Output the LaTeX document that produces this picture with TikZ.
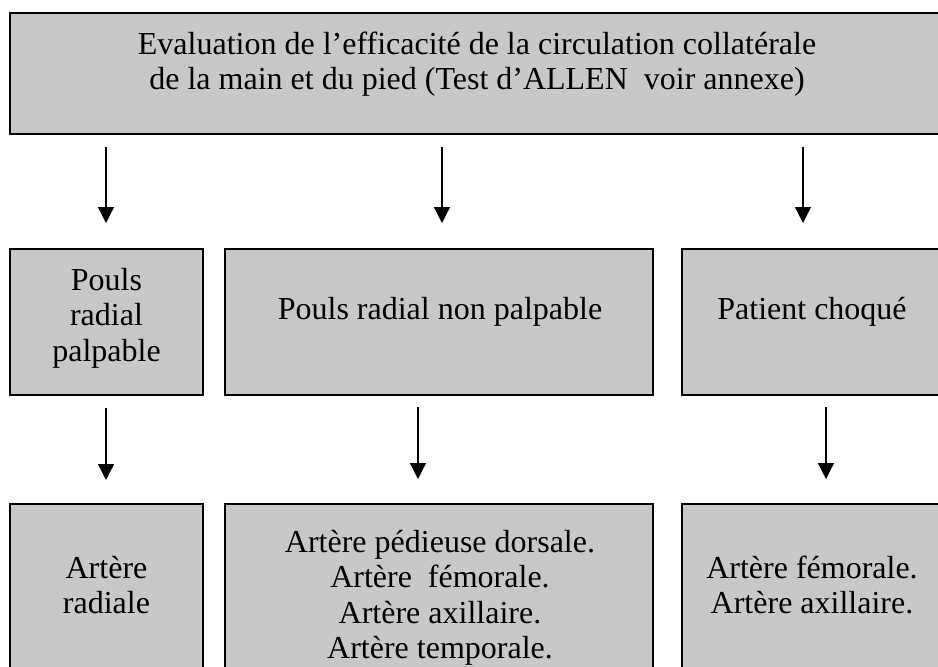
\documentclass[tikz,border=0pt]{standalone}
\usepackage{fontspec}
\setmainfont{Liberation Serif}
\usetikzlibrary{arrows.meta}
\definecolor{boxgray}{RGB}{200,200,200}
\tikzset{
  box/.style={draw=black, line width=1.6pt, fill=boxgray, rectangle, inner sep=0pt},
  lbl/.style={align=center, inner sep=0pt, font=\fontsize{32}{35.5}\selectfont},
  arr/.style={line width=1.3pt, -{Triangle[width=16pt,length=16pt]}}
}
\begin{document}
\begin{tikzpicture}[x=1pt,y=-1pt]
\path[use as bounding box] (0,0) rectangle (938,667);
\clip (0,0) rectangle (938,667);
\fill[white] (0,0) rectangle (938,667);
% boxes
\node[box, minimum width=932pt, minimum height=121pt] (top) at (476,73.5) {};
\node[box, minimum width=193pt, minimum height=146pt] (b1) at (106.5,322) {};
\node[box, minimum width=428pt, minimum height=146pt] (b2) at (439,322) {};
\node[box, minimum width=260pt, minimum height=146pt] (b3) at (812,322) {};
\node[box, minimum width=193pt, minimum height=196pt] (c1) at (106.5,602) {};
\node[box, minimum width=428pt, minimum height=196pt] (c2) at (439,602) {};
\node[box, minimum width=260pt, minimum height=196pt] (c3) at (812,602) {};
% texts
\node[lbl] (ttop) at (477,64) {Evaluation de l’efficacité de la circulation collatérale\\de la main et du pied (Test d’ALLEN\ \ voir annexe)};
\node[lbl] (tb1) at (106.5,318) {Pouls\\radial\\palpable};
\node[lbl] (tb2) at (440,312) {Pouls radial non palpable};
\node[lbl] (tb3) at (812,312) {Patient choqué};
\node[lbl] (tc1) at (106.5,585) {Artère\\radiale};
\node[lbl] (tc2) at (440,598) {Artère pédieuse dorsale.\\Artère\ \ fémorale.\\Artère axillaire.\\Artère temporale.};
\node[lbl] (tc3) at (812,585) {Artère fémorale.\\Artère axillaire.};
% arrow coordinates
\coordinate (a1s) at (106,147); \coordinate (a1e) at (106,223);
\coordinate (a2s) at (442,147); \coordinate (a2e) at (442,223);
\coordinate (a3s) at (803,147); \coordinate (a3e) at (803,223);
\coordinate (d1s) at (106,408); \coordinate (d1e) at (106,480);
\coordinate (d2s) at (418,407); \coordinate (d2e) at (418,479);
\coordinate (d3s) at (826,407); \coordinate (d3e) at (826,479);
\draw[arr] (a1s) -- (a1e);
\draw[arr] (a2s) -- (a2e);
\draw[arr] (a3s) -- (a3e);
\draw[arr] (d1s) -- (d1e);
\draw[arr] (d2s) -- (d2e);
\draw[arr] (d3s) -- (d3e);
\end{tikzpicture}
\end{document}
